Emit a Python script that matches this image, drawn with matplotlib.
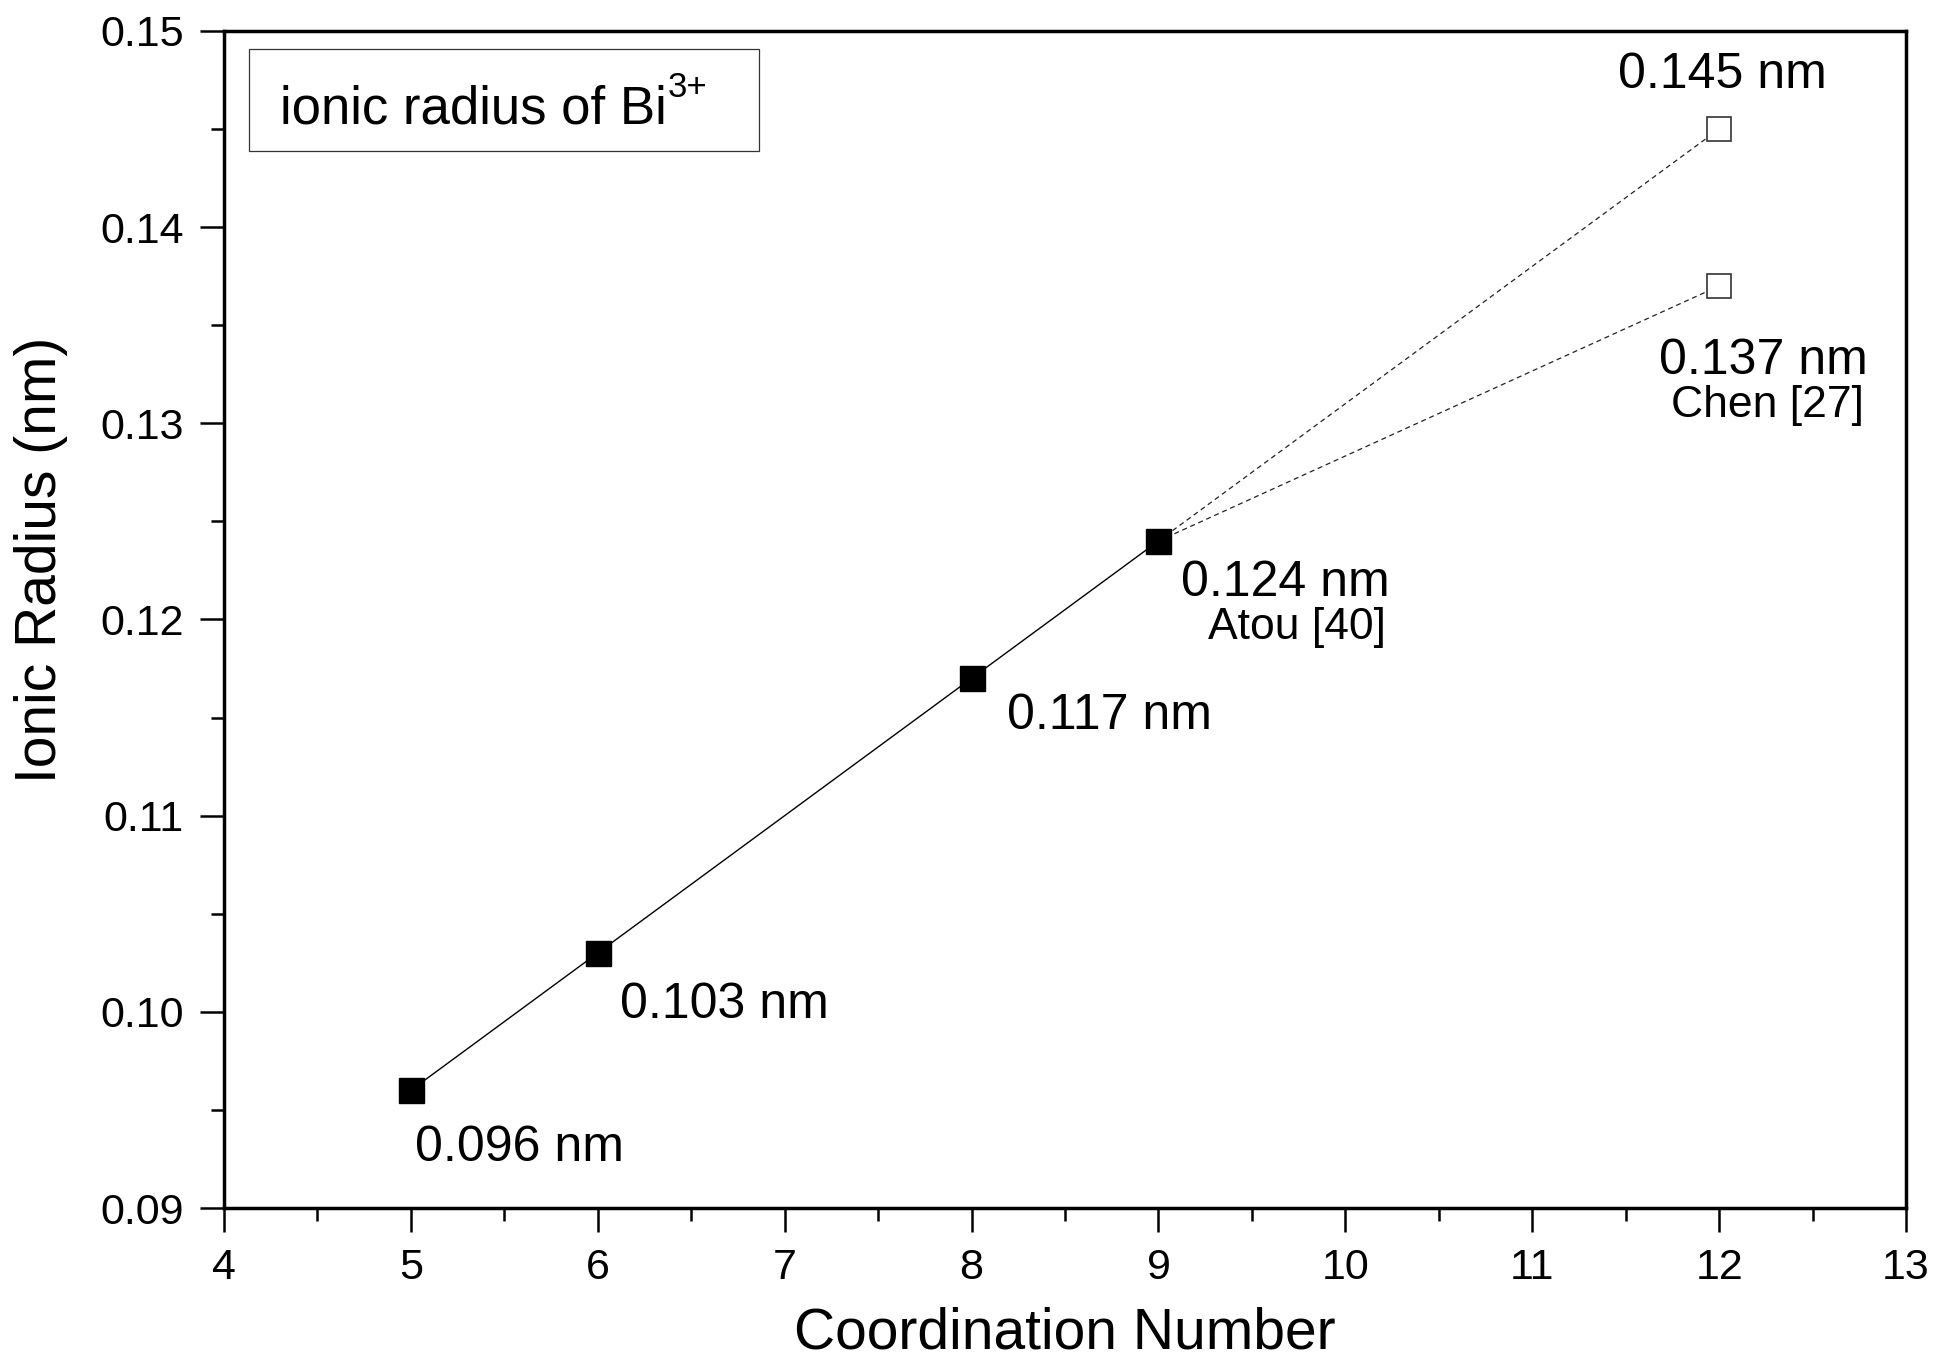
"""Ionic radius of Bi3+ vs coordination number."""
import matplotlib
matplotlib.use("Agg")
import matplotlib.pyplot as plt
from matplotlib.patches import Rectangle
from matplotlib.ticker import MultipleLocator

plt.rcParams["font.family"] = ["Liberation Sans", "DejaVu Sans"]

# Shannon radii (filled) and literature values (open)
cn = [5, 6, 8, 9]
radius = [0.096, 0.103, 0.117, 0.124]
cn_lit = [12, 12]
radius_lit = [0.145, 0.137]

labels = ["0.096 nm", "0.103 nm", "0.117 nm", "0.124 nm"]
label_xy = [(5.02, 0.0924), (6.12, 0.0997), (8.19, 0.1144), (9.12, 0.1212)]
lit_labels = ["0.145 nm", "0.137 nm"]
lit_label_xy = [(11.46, 0.1471), (11.68, 0.1325)]
refs = ["Atou [40]", "Chen [27]"]
ref_xy = [(9.265, 0.1190), (11.745, 0.1303)]


def main() -> None:
    fig = plt.figure(figsize=(19.39, 13.63), dpi=100)
    ax = fig.add_axes([0.1155, 0.1137, 0.8675, 0.8636])

    # dashed extrapolations from CN=9 to the literature values
    for x, y in zip(cn_lit, radius_lit):
        ax.plot([cn[-1], x], [radius[-1], y], color="#222222", lw=0.9,
                dashes=(4, 3), zorder=2)
    ax.plot(cn, radius, color="black", lw=1.0, zorder=2)
    ax.plot(cn, radius, ls="none", marker="s", ms=18, mfc="black",
            mec="black", zorder=3)
    ax.plot(cn_lit, radius_lit, ls="none", marker="s", ms=17, mfc="white",
            mec="#333333", mew=1.2, zorder=3)

    for txt, (x, y) in zip(labels + lit_labels, label_xy + lit_label_xy):
        ax.text(x, y, txt, fontsize=36, ha="left", va="baseline")
    for txt, (x, y) in zip(refs, ref_xy):
        ax.text(x, y, txt, fontsize=32, ha="left", va="baseline")

    # framed title box in the upper left
    ax.add_patch(Rectangle((0.0149, 0.898), 0.303, 0.0867,
                           transform=ax.transAxes, fill=False,
                           ec="#333333", lw=0.9, zorder=4))
    t = ax.text(0.0333, 0.921, "ionic radius of Bi",
                transform=ax.transAxes, fontsize=38, ha="left", va="baseline")
    ax.annotate("3+", xy=(1.0, 0.62), xycoords=t, xytext=(1, 0),
                textcoords="offset points", fontsize=25, ha="left",
                va="bottom")

    ax.set_xlim(4, 13)
    ax.set_ylim(0.09, 0.15)
    ax.xaxis.set_major_locator(MultipleLocator(1))
    ax.xaxis.set_minor_locator(MultipleLocator(0.5))
    ax.yaxis.set_major_locator(MultipleLocator(0.01))
    ax.yaxis.set_minor_locator(MultipleLocator(0.005))
    ax.yaxis.set_major_formatter(plt.FormatStrFormatter("%.2f"))
    ax.xaxis.set_major_formatter(plt.FormatStrFormatter("%d"))

    ax.tick_params(which="major", direction="out", length=17, width=1.8,
                   labelsize=31, pad=12)
    ax.tick_params(which="minor", direction="out", length=9.5, width=1.8)
    ax.tick_params(top=False, right=False)
    for sp in ax.spines.values():
        sp.set_linewidth(2.5)

    ax.set_xlabel("Coordination Number", fontsize=41, va="baseline")
    ax.xaxis.set_label_coords(0.5, -0.119)
    ax.set_ylabel("Ionic Radius (nm)", fontsize=41, va="baseline")
    ax.yaxis.set_label_coords(-0.0999, 0.5506)

    fig.savefig("out.png", dpi=100)
    plt.close(fig)


if __name__ == "__main__":
    main()
